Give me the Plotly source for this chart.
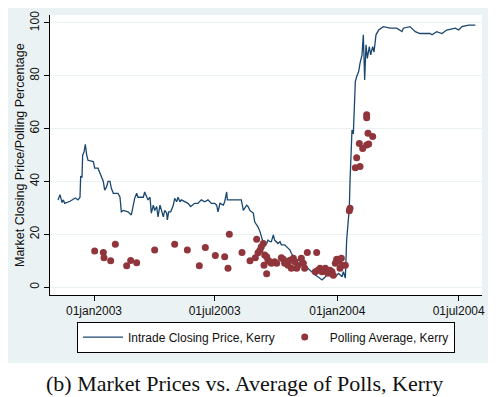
import plotly.graph_objects as go

# Intrade closing price, Kerry
price_dates = [
    "2002-11-08", "2002-11-11", "2002-11-14", "2002-11-16", "2002-11-18", "2002-11-26",
    "2002-12-04", "2002-12-08", "2002-12-11", "2002-12-12", "2002-12-14", "2002-12-15",
    "2002-12-17", "2002-12-19", "2002-12-21", "2002-12-23", "2002-12-31", "2003-01-02",
    "2003-01-07", "2003-01-10", "2003-01-12", "2003-01-15", "2003-01-17", "2003-01-20",
    "2003-01-22", "2003-01-25", "2003-01-27", "2003-01-30", "2003-02-06", "2003-02-09",
    "2003-02-11", "2003-02-14", "2003-02-21", "2003-02-26", "2003-03-03", "2003-03-06",
    "2003-03-08", "2003-03-16", "2003-03-18", "2003-03-23", "2003-03-26", "2003-03-28",
    "2003-03-31", "2003-04-02", "2003-04-05", "2003-04-07", "2003-04-10", "2003-04-12",
    "2003-04-15", "2003-04-17", "2003-04-20", "2003-04-21", "2003-04-23", "2003-04-26",
    "2003-04-30", "2003-05-02", "2003-05-05", "2003-05-07", "2003-05-10", "2003-05-12",
    "2003-05-17", "2003-05-22", "2003-05-26", "2003-06-01", "2003-06-06", "2003-06-11",
    "2003-06-16", "2003-06-21", "2003-06-26", "2003-07-01", "2003-07-04", "2003-07-06",
    "2003-07-09", "2003-07-14", "2003-07-16", "2003-07-19", "2003-07-20", "2003-08-10",
    "2003-08-13", "2003-08-18", "2003-08-20", "2003-08-23", "2003-08-28", "2003-08-30",
    "2003-09-02", "2003-09-04", "2003-09-07", "2003-09-09", "2003-09-12", "2003-09-14",
    "2003-09-17", "2003-09-19", "2003-09-22", "2003-09-24", "2003-09-27", "2003-09-29",
    "2003-10-02", "2003-10-04", "2003-10-07", "2003-10-09", "2003-10-14", "2003-10-17",
    "2003-10-22", "2003-10-24", "2003-10-27", "2003-10-29", "2003-11-03", "2003-11-08",
    "2003-11-13", "2003-11-18", "2003-11-24", "2003-11-29", "2003-12-03", "2003-12-09",
    "2003-12-14", "2003-12-18", "2003-12-24", "2003-12-29", "2004-01-03", "2004-01-08",
    "2004-01-10", "2004-01-13", "2004-01-15", "2004-01-18", "2004-01-19", "2004-01-20",
    "2004-01-23", "2004-01-25", "2004-01-27", "2004-01-28", "2004-01-30", "2004-02-02",
    "2004-02-04", "2004-02-07", "2004-02-09", "2004-02-11", "2004-02-13", "2004-02-15",
    "2004-02-18", "2004-02-20", "2004-02-23", "2004-02-25", "2004-02-28", "2004-03-03",
    "2004-03-10", "2004-03-20", "2004-03-30", "2004-04-07", "2004-04-09", "2004-04-19",
    "2004-04-27", "2004-05-04", "2004-05-19", "2004-05-22", "2004-05-29", "2004-06-06",
    "2004-06-13", "2004-06-26", "2004-07-01", "2004-07-06", "2004-07-16", "2004-07-26",
]
price_values = [
    33, 35, 32, 33, 31.7, 32.5,
    33.7, 33, 34, 42, 41.5, 50,
    51, 54, 50, 48, 47.5, 45,
    45, 43, 42, 40, 36.7, 38,
    40, 40, 37.4, 35.5, 35.5, 34,
    28.5, 29, 28.5, 27.3, 33.6, 35.5,
    34, 34, 36, 33, 34, 28,
    31, 29, 30.5, 26.6, 31, 29,
    26.6, 29, 28, 25.4, 28.5, 28.5,
    31, 33.6, 32.3, 34, 32.3, 33,
    32.3, 31.7, 30.5, 31.7, 31.7, 33,
    32.3, 33, 31.7, 31.7, 31, 28.5,
    31.7, 31, 32.3, 36, 33, 33,
    29, 31, 30.5, 29, 28, 24.7,
    23.5, 22.8, 21, 19, 16.5, 16,
    16.5, 17.8, 17.2, 17.2, 19.7, 17.8,
    17.2, 16.5, 17.2, 16, 16, 15.3,
    14, 12.8, 11.5, 10.9, 10.2, 9.6,
    8.3, 7, 5.8, 4.5, 3.9, 2.7,
    3.9, 5.2, 3.9, 3.9, 5.2, 3.9,
    5.8, 3.4, 17.8, 28, 30, 40,
    59.5, 58, 69, 77.8, 79.7, 81.6,
    84.7, 87.9, 95.5, 78.4, 91.7, 86.6,
    91, 87.9, 91, 89, 95.5, 97.3,
    98.6, 98, 98, 96.7, 98, 98.6,
    96.7, 96, 96, 95.5, 96.7, 96,
    97.3, 98, 97.3, 98.6, 99.2, 99.2,
]

# Polling average, Kerry
poll_dates = [
    "2003-01-02", "2003-01-15", "2003-01-16", "2003-01-26", "2003-02-02", "2003-02-19",
    "2003-02-25", "2003-03-06", "2003-04-02", "2003-05-02", "2003-05-21", "2003-06-08",
    "2003-06-17", "2003-07-02", "2003-07-16", "2003-07-21", "2003-07-23", "2003-08-11",
    "2003-08-23", "2003-09-02", "2003-08-31", "2003-09-04", "2003-09-07", "2003-09-09",
    "2003-09-12", "2003-09-13", "2003-09-14", "2003-09-17", "2003-09-17", "2003-09-19",
    "2003-09-22", "2003-09-24", "2003-09-29", "2003-10-02", "2003-10-09", "2003-10-12",
    "2003-10-14", "2003-10-17", "2003-10-19", "2003-10-22", "2003-10-24", "2003-10-27",
    "2003-10-29", "2003-11-01", "2003-11-03", "2003-11-08", "2003-11-11", "2003-11-13",
    "2003-11-17", "2003-12-01", "2003-11-29", "2003-12-03", "2003-12-06", "2003-12-09",
    "2003-12-11", "2003-12-14", "2003-12-16", "2003-12-18", "2003-12-21", "2003-12-24",
    "2003-12-26", "2003-12-29", "2003-12-31", "2004-01-03", "2004-01-05", "2004-01-08",
    "2004-01-07", "2004-01-13", "2004-01-19", "2004-01-20", "2004-01-28", "2004-01-30",
    "2004-02-03", "2004-02-04", "2004-02-08", "2004-02-14", "2004-02-14", "2004-02-14",
    "2004-02-16", "2004-02-17", "2004-02-23",
]
poll_values = [
    13.7, 13.1, 11.1, 10, 16.2, 8.1,
    10.1, 9.2, 14, 16.2, 14, 8.1,
    15, 12, 11.5, 7.1, 20, 13.1,
    10, 18.1, 11.1, 13, 14, 15.3,
    16.5, 8.3, 12.1, 11.5, 5, 10.2,
    9.6, 9, 9.6, 9, 11.1, 10.5,
    9, 9.6, 8.3, 10.2, 7.1, 10.9,
    9.6, 7.1, 8.3, 10.9, 9, 7.1,
    13.1, 13.1, 5.8, 6.4, 7.1, 5.8,
    6.4, 7.1, 5.8, 5.2, 6.4, 5.8,
    4.5, 9, 10.5, 10.2, 7.1, 8.3,
    10.9, 8.3, 28.9, 29.8, 45.2, 49,
    54.4, 45.6, 52.5, 53.8, 65.2, 64.1,
    58.2, 54.2, 57,
]

tick_dates = ["2003-01-01", "2003-07-01", "2004-01-01", "2004-07-01"]
tick_labels = ["01jan2003", "01jul2003", "01jan2004", "01jul2004"]
y_ticks = [0, 20, 40, 60, 80, 100]

BG = "#EAF2F3"
FONT = "Liberation Sans, Arial, sans-serif"

fig = go.Figure()
fig.add_trace(go.Scatter(
    x=price_dates, y=price_values, mode="lines",
    name="Intrade Closing Price, Kerry",
    line=dict(color="#1a476f", width=1.3),
))
fig.add_trace(go.Scatter(
    x=poll_dates, y=poll_values, mode="markers",
    name="Polling Average, Kerry",
    marker=dict(color="#90353b", size=7, line=dict(width=0)),
))

# the page body adds an 8px offset; the figure fills the rest of the window
fig.update_layout(
    width=488, height=389,
    margin=dict(l=42, r=14, t=7, b=102, autoexpand=False),
    paper_bgcolor=BG,
    plot_bgcolor="white",
    font=dict(family=FONT, size=12, color="#111111"),
    showlegend=True,
    legend=dict(
        orientation="h", x=0.5, xanchor="center", y=-0.095, yanchor="top",
        bgcolor="white", bordercolor="black", borderwidth=1,
        font=dict(size=12, color="#111111"),
        itemwidth=40, tracegroupgap=0,
    ),
    xaxis=dict(
        type="date", range=["2002-10-27", "2004-08-05"],
        tickmode="array", tickvals=tick_dates, ticktext=tick_labels,
        ticks="outside", ticklen=5, tickcolor="black", tickwidth=1,
        showline=True, linecolor="black", linewidth=1,
        showgrid=False, zeroline=False, automargin=False,
        tickfont=dict(size=12), ticklabeloverflow="allow",
    ),
    yaxis=dict(
        range=[-3.0, 103.0],
        tickmode="array", tickvals=y_ticks,
        tickangle=-90,
        ticks="outside", ticklen=5, tickcolor="black", tickwidth=1,
        showline=True, linecolor="black", linewidth=1,
        showgrid=True, gridcolor=BG, gridwidth=1, zeroline=False,
        automargin=False,
        tickfont=dict(size=12),
    ),
    shapes=[
        dict(type="rect", xref="paper", yref="paper", x0=-0.2, x1=1.1,
             y0=-0.6, y1=(295 - 363) / 280, fillcolor="white",
             line=dict(width=0), layer="below"),
        dict(type="rect", xref="paper", yref="paper", x0=(494 - 50) / 432, x1=1.1,
             y0=-0.6, y1=1.1, fillcolor="white",
             line=dict(width=0), layer="below"),
    ],
    annotations=[
        dict(text="Market Closing Price/Polling Percentage",
             xref="paper", yref="paper", x=(20 - 50) / 432, y=0.5,
             xanchor="center", yanchor="middle", textangle=-90, showarrow=False,
             font=dict(size=12.5, color="#111111")),
        dict(text="(b) Market Prices vs. Average of Polls, Kerry",
             xref="paper", yref="paper", x=(244 - 50) / 432, y=(295 - 383) / 280,
             xanchor="center", yanchor="middle", showarrow=False,
             font=dict(family="Liberation Serif, Times New Roman, serif", size=22, color="#111111")),
    ],
)

fig.write_html("out.html")
